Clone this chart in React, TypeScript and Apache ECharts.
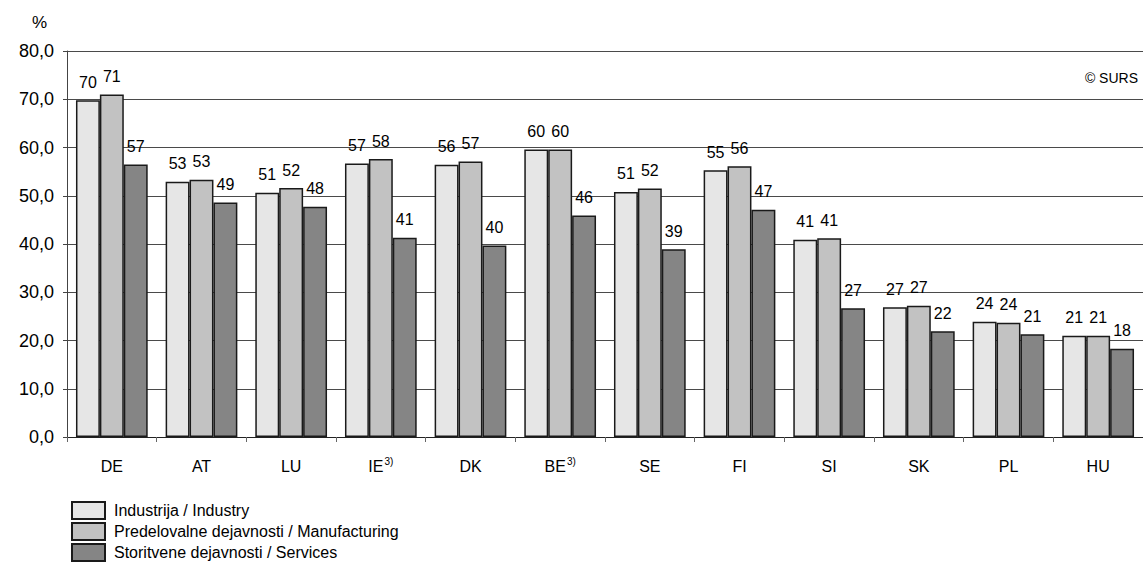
import React, { useEffect, useRef } from "react";
import * as echarts from "echarts";

const categories = ["DE", "AT", "LU", "IE", "DK", "BE", "SE", "FI", "SI", "SK", "PL", "HU"];
const footnotes = ["", "", "", "3)", "", "3)", "", "", "", "", "", ""];
const seriesNames = [
  "Industrija / Industry",
  "Predelovalne dejavnosti / Manufacturing",
  "Storitvene dejavnosti / Services",
];
const industry = [69.8, 52.9, 50.6, 56.7, 56.4, 59.6, 50.8, 55.3, 40.9, 26.9, 23.9, 21.0];
const manufacturing = [71.0, 53.3, 51.6, 57.6, 57.1, 59.6, 51.5, 56.1, 41.2, 27.2, 23.7, 21.0];
const services = [56.5, 48.6, 47.7, 41.3, 39.7, 45.9, 38.9, 47.1, 26.7, 21.9, 21.3, 18.3];
const yTicks = { min: 0, max: 80, interval: 10 };

const FONT = "'Liberation Sans', Arial, sans-serif";
const colors = ["#e6e6e6", "#c2c2c2", "#858585"];

export default function App() {
  const ref = useRef<HTMLDivElement>(null);
  useEffect(() => {
    if (!ref.current) return;
    const chart = echarts.init(ref.current, undefined, { renderer: "svg" });
    const values = [industry, manufacturing, services];
    chart.setOption({
      animation: false,
      backgroundColor: "#ffffff",
      textStyle: { fontFamily: FONT, color: "#000" },
      grid: { left: 67, top: 51, width: 1085, height: 386, containLabel: false },
      legend: {
        orient: "vertical",
        left: 66,
        top: 496,
        height: 200,
        itemWidth: 33,
        itemHeight: 17,
        itemGap: 2,
        icon: "rect",
        textStyle: { fontSize: 16, lineHeight: 17, height: 17, color: "#000", fontFamily: FONT, padding: [0, 0, 0, 4] },
        data: seriesNames,
      },
      xAxis: {
        type: "category",
        data: categories,
        axisLine: { lineStyle: { color: "#222", width: 1 } },
        axisTick: { show: true, length: 5, lineStyle: { color: "#666" } },
        axisLabel: {
          interval: 0,
          margin: 20,
          color: "#000",
          fontSize: 16,
          fontFamily: FONT,
          formatter: (v: string, i: number) =>
            footnotes[i] ? `{m|${v}}{s|${footnotes[i]}}` : `{m|${v}}`,
          rich: {
            m: { fontSize: 16, fontFamily: FONT, color: "#000", lineHeight: 18 },
            s: { fontSize: 10, fontFamily: FONT, color: "#000", verticalAlign: "bottom", lineHeight: 10, padding: [0, 0, 9, 1] },
          },
        },
      },
      yAxis: {
        type: "value",
        min: yTicks.min,
        max: yTicks.max,
        interval: yTicks.interval,
        axisLine: { show: true, lineStyle: { color: "#444", width: 1 } },
        axisTick: { show: true, length: 4, lineStyle: { color: "#444" } },
        splitLine: { show: true, lineStyle: { color: "#4a4a4a", width: 1 } },
        axisLabel: {
          margin: 13,
          color: "#000",
          fontSize: 18,
          fontFamily: FONT,
          formatter: (v: number) => v.toFixed(1).replace(".", ","),
        },
      },
      series: seriesNames.map((name, k) => ({
        name,
        type: "bar",
        data: values[k],
        barGap: "0%",
        barCategoryGap: "20%",
        itemStyle: { color: colors[k], borderColor: "#1a1a1a", borderWidth: 1.5 },
        label: {
          show: true,
          position: "top",
          distance: 10,
          fontSize: 16,
          fontFamily: FONT,
          color: "#000",
          formatter: (p: any) => String(Math.round(p.value)),
        },
      })),
      graphic: [
        {
          type: "text",
          left: 32,
          top: 14,
          style: { text: "%", fontSize: 17, fontFamily: FONT, fill: "#000" },
        },
        {
          type: "text",
          right: 5,
          top: 71,
          style: { text: "© SURS", fontSize: 14, fontFamily: FONT, fill: "#000" },
        },
      ],
    });
    return () => chart.dispose();
  }, []);
  return (
    <div
      ref={ref}
      style={{ position: "absolute", left: 0, top: 0, width: 1143, height: 571 }}
    />
  );
}
